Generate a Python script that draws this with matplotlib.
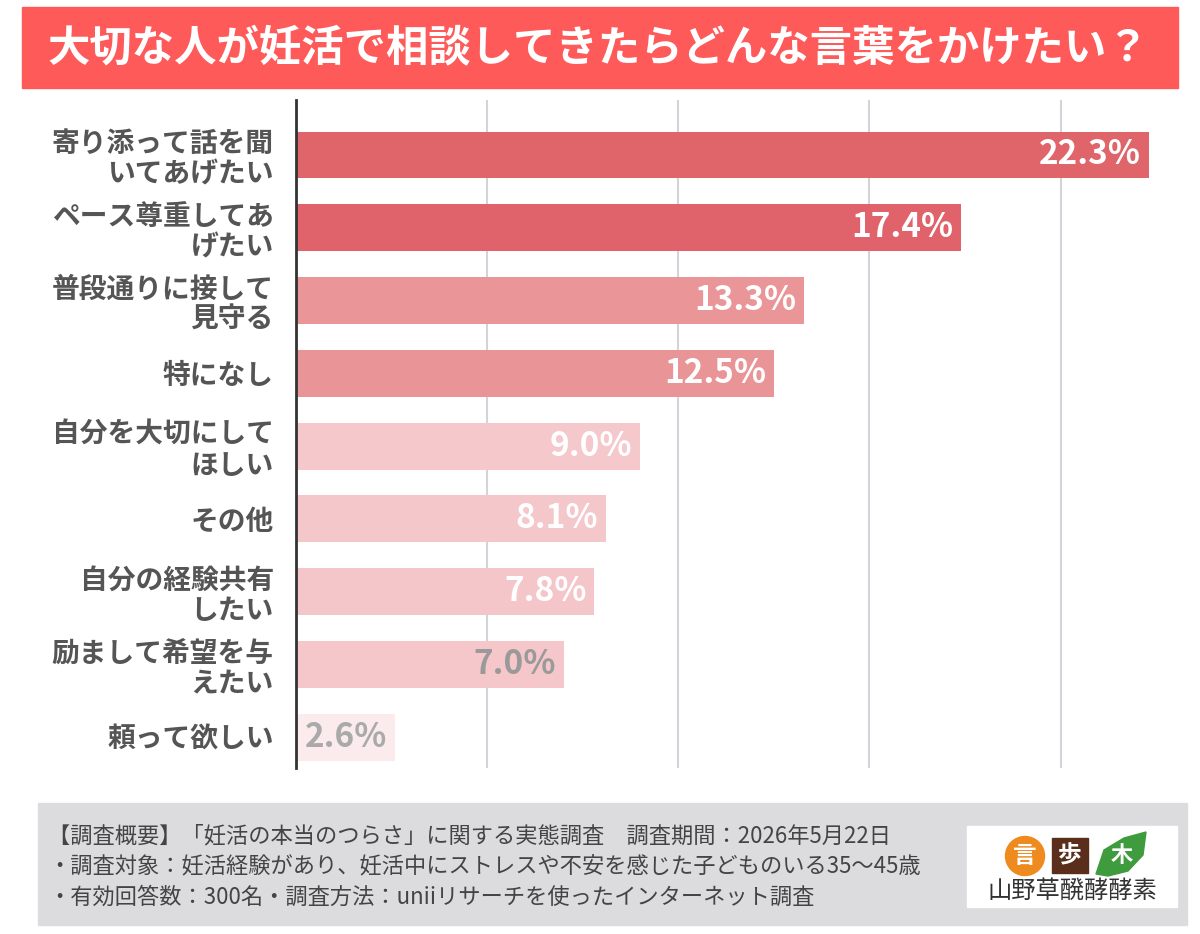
import matplotlib.pyplot as plt
from matplotlib.patches import Rectangle, Circle, Polygon

plt.rcParams['font.family'] = ['Noto Sans CJK JP', 'DejaVu Sans']

# --- Données ---
categories = [
    "寄り添って話を聞\nいてあげたい",
    "ペース尊重してあ\nげたい",
    "普段通りに接して\n見守る",
    "特になし",
    "自分を大切にして\nほしい",
    "その他",
    "自分の経験共有\nしたい",
    "励まして希望を与\nえたい",
    "頼って欲しい",
]
values = [22.3, 17.4, 13.3, 12.5, 9.0, 8.1, 7.8, 7.0, 2.6]

title = "大切な人が妊活で相談してきたらどんな言葉をかけたい？"
notes = [
    "【調査概要】「妊活の本当のつらさ」に関する実態調査　調査期間：2026年5月22日",
    "・調査対象：妊活経験があり、妊活中にストレスや不安を感じた子どものいる35〜45歳",
    "・有効回答数：300名・調査方法：uniiリサーチを使ったインターネット調査",
]

# couleurs des barres et des étiquettes
bar_colors = ["#E0656A", "#E0626A", "#EA9598", "#E99597", "#F5C8CC",
              "#F4C7CB", "#F4C5C9", "#F5C6CA", "#FCEBED"]
label_colors = ["white"] * 7 + ["#9a9a9a", "#aaaaaa"]

W, H = 1200, 934
fig = plt.figure(figsize=(W / 100, H / 100), dpi=100)

# --- Fond (coordonnées en pixels) ---
bg = fig.add_axes([0, 0, 1, 1], zorder=0)
bg.set_xlim(0, W)
bg.set_ylim(H, 0)
bg.axis('off')

# bandeau titre
bg.add_patch(Rectangle((22, 7), 1156, 81, color="#FF5A5A"))
bg.text(598, 48, title, color="white", fontsize=30.5, fontweight='bold',
        ha='center', va='center')

# encadré bas
bg.add_patch(Rectangle((38, 803), 1149, 122, color="#DCDCDE"))
for i, line in enumerate(notes):
    bg.text(48, 836 + i * 30.5, line, color="#444444", fontsize=16,
            ha='left', va='center')

# logo
bg.add_patch(Rectangle((967, 826), 210, 81, color="white"))
bg.add_patch(Circle((1025, 856), 19.5, color="#EE8A1E"))
bg.text(1025, 856, "言", color="white", fontsize=17, fontweight='bold', ha='center', va='center')
bg.add_patch(Rectangle((1052, 838), 36, 35, color="#5A2E1A"))
bg.text(1070, 855.5, "歩", color="white", fontsize=17, fontweight='bold', ha='center', va='center')
bg.add_patch(Polygon([(1096, 874), (1104, 850), (1124, 838), (1146, 832),
                      (1143, 855), (1128, 871), (1108, 876)], closed=True, color="#3E9B3E"))
bg.text(1122, 856, "木", color="white", fontsize=16, fontweight='bold', ha='center', va='center')
bg.text(1072, 891, "山野草醗酵酵素", color="#333333", fontsize=17.5, ha='center', va='center')

# --- Graphique ---
left, right, top, bottom = 296, 1160, 100, 768
ax = fig.add_axes([left / W, 1 - bottom / H, (right - left) / W, (bottom - top) / H], zorder=1)
ax.patch.set_alpha(0)

pos = list(range(len(values)))
ax.barh(pos, values, height=0.646, color=bar_colors, zorder=2)

ax.set_xlim(0, 22.6)
ax.set_ylim(8.426, -0.756)
ax.set_xticks([5, 10, 15, 20])
ax.grid(axis='x', color="#D3D3DA", linewidth=1.5, zorder=0)
ax.tick_params(axis='x', length=0, labelbottom=False)
ax.tick_params(axis='y', length=0, pad=16)
ax.set_yticks(pos)
ax.set_yticklabels(categories, fontsize=20, fontweight='bold', color="#555555",
                   linespacing=1.12)

for s in ['top', 'right', 'bottom']:
    ax.spines[s].set_visible(False)
ax.spines['left'].set_color("#333333")
ax.spines['left'].set_linewidth(2)
ax.spines['left'].set_zorder(3)

# étiquettes de valeurs
for p, v, c in zip(pos, values, label_colors):
    ax.text(v - 0.2, p, f"{v:.1f}%", color=c, fontsize=24, fontweight='bold',
            ha='right', va='center', zorder=3)

fig.savefig("out.png", dpi=100)
